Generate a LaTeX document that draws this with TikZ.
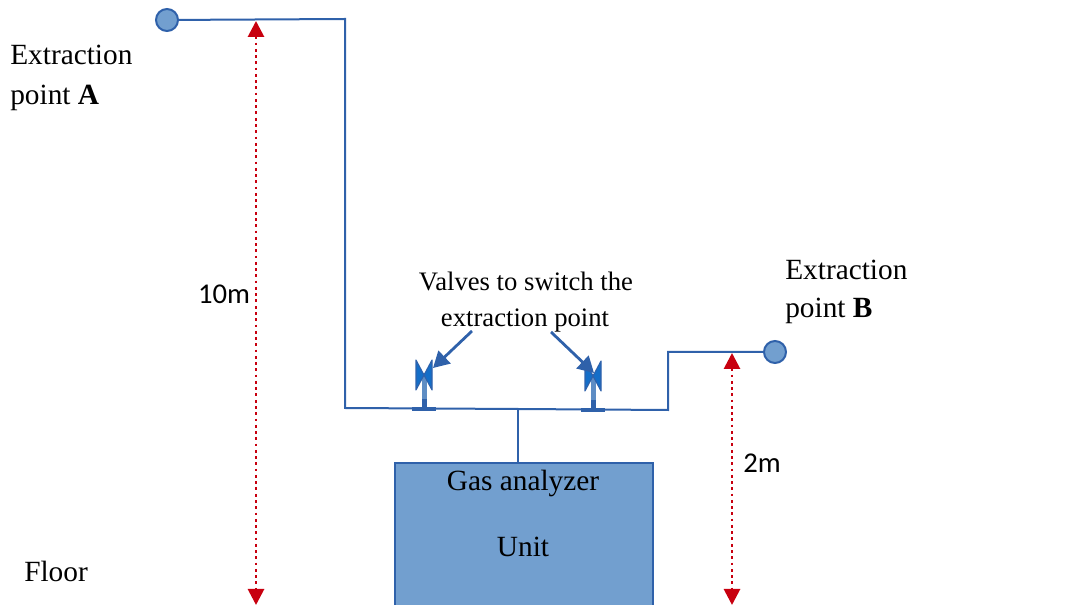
\documentclass[tikz,border=0pt]{standalone}
\usepackage{fontspec}
\setmainfont{Liberation Serif}
\newfontfamily\calibrifont{Carlito}
\usetikzlibrary{arrows.meta}
\definecolor{pipeblue}{RGB}{47,97,170}
\definecolor{fillblue}{RGB}{114,159,207}
\definecolor{valveblue}{RGB}{20,110,200}
\definecolor{dimred}{RGB}{200,0,15}
\tikzset{
  pipe/.style={draw=pipeblue, line width=1.5pt},
  point/.style={circle, draw=pipeblue, fill=fillblue, line width=1.5pt, minimum size=16.5pt, inner sep=0pt},
  dimline/.style={draw=dimred, line width=2.1pt, dash pattern=on 2.1pt off 2.6pt, {Triangle[width=12pt,length=12pt,fill=dimred]}-{Triangle[width=12pt,length=12pt,fill=dimred]}},
  callout/.style={draw=pipeblue, line width=2.1pt, -{Triangle[width=13pt,length=12pt]}},
  labeltext/.style={font=\fontsize{22}{22}\selectfont, inner sep=0pt, anchor=base west},
  smalltext/.style={font=\fontsize{20}{20}\selectfont, inner sep=0pt, anchor=base},
  dimtext/.style={font=\calibrifont\fontsize{21.5}{21.5}\selectfont, inner sep=0pt, anchor=base}
}
\begin{document}
\begin{tikzpicture}[x=0.75pt, y=-0.75pt]
  \useasboundingbox (0,0) rectangle (1068,605);
  % Extraction pipes
  \node[point] (pointA) at (167,20) {};
  \node[point] (pointB) at (775,352) {};
  \node[draw=pipeblue, fill=fillblue, line width=1.5pt, minimum width=193.5pt, minimum height=120pt, inner sep=0pt, anchor=north west] (unit) at (394,462) {};
  \coordinate (jointA) at (345,19);
  \coordinate (jointB) at (345,408);
  \coordinate (jointC) at (668,410);
  \coordinate (jointD) at (668,352);
  \coordinate (tee) at (518,409);
  \draw[pipe] (pointA) -- (jointA) -- (jointB) -- (tee) -- (jointC) -- (jointD) -- (pointB);
  \draw[pipe] (tee) -- (tee |- unit.north);
  % Valves
  \foreach \n/\x/\y in {A/424/409,B/593/410} {
    \fill[fillblue!70!pipeblue] (\x-2.5,\y-36) rectangle (\x+2.5,\y);
    \fill[pipeblue] (\x-2.5,\y-10) rectangle (\x+2.5,\y);
    \fill[pipeblue] (\x-12,\y-2) rectangle (\x+12,\y+2);
    \draw[draw=pipeblue, fill=valveblue, line width=0.8pt, line join=round] (\x-8,\y-49) -- (\x+8,\y-19) -- (\x+8,\y-49) -- (\x-8,\y-19) -- cycle;
  }
  % Heights
  \coordinate (topA) at (256,21);
  \coordinate (floorA) at (256,605);
  \coordinate (topB) at (732,353);
  \coordinate (floorB) at (732,605);
  \draw[dimline] (topA) -- (floorA);
  \draw[dimline] (topB) -- (floorB);
  \node[dimtext] (heightA) at (224,304) {10m};
  \node[dimtext] (heightB) at (762,473) {2m};
  % Labels
  \node[labeltext] (labelA1) at (10,64.5) {Extraction};
  \node[labeltext] (labelA2) at (10,104.5) {point \textbf{A}};
  \node[labeltext] (labelB1) at (785,280) {Extraction};
  \node[labeltext] (labelB2) at (785,318) {point \textbf{B}};
  \node[labeltext] (floor) at (24,582) {Floor};
  \node[smalltext] (valves1) at (526,291) {Valves to switch the};
  \node[smalltext] (valves2) at (525,327) {extraction point};
  \node[labeltext, anchor=base] (gas) at (523,491) {Gas analyzer};
  \node[labeltext, anchor=base] (unitlabel) at (523,557) {Unit};
  % Callouts
  \coordinate (startA) at (472,331);
  \coordinate (startB) at (551,332);
  \coordinate (tipA) at (433,368);
  \coordinate (tipB) at (594,373);
  \draw[callout] (startA) -- (tipA);
  \draw[callout] (startB) -- (tipB);
\end{tikzpicture}
\end{document}
